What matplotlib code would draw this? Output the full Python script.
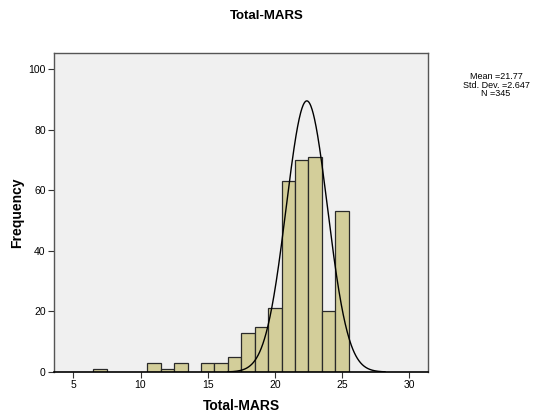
import numpy as np
import matplotlib.pyplot as plt

plt.rcParams['font.family'] = ['Liberation Sans', 'DejaVu Sans']

# bin centres and counts
scores = [7, 11, 12, 13, 15, 16, 17, 18, 19, 20, 21, 22, 23, 24, 25]
counts = [1, 3, 1, 3, 3, 3, 5, 13, 15, 21, 63, 70, 71, 20, 53]

# normal curve as drawn (peak position / height)
curve_mean = 22.38
curve_peak = 89.5
curve_sd = 345 / (curve_peak * np.sqrt(2 * np.pi))

stats_text = "Mean =21.77\nStd. Dev. =2.647\nN =345"

fig = plt.figure(figsize=(5.34, 4.16), dpi=100)
ax = fig.add_axes([54 / 534, 1 - 372 / 416, 374 / 534, 319 / 416])
ax.set_facecolor('#f0f0f0')

ax.bar(scores, counts, width=1.0, color='#d3ce9a', edgecolor='#2a2a2a', linewidth=0.9, zorder=2)

xs = np.linspace(16.5, 28.2, 400)
ys = curve_peak * np.exp(-0.5 * ((xs - curve_mean) / curve_sd) ** 2)
ax.plot(xs, ys, color='black', linewidth=1.0, zorder=3)

ax.set_xlim(3.56, 31.4)
ax.set_ylim(0, 105.3)
ax.set_xticks([5, 10, 15, 20, 25, 30])
ax.set_yticks([0, 20, 40, 60, 80, 100])
ax.tick_params(labelsize=7.5, length=4, width=0.8, colors='#333333', labelcolor='black', pad=2)
for s in ax.spines.values():
    s.set_color('#555555')
    s.set_linewidth(1.0)
ax.spines['bottom'].set_color('black')
ax.spines['bottom'].set_linewidth(1.2)

ax.set_xlabel('Total-MARS', fontsize=10, fontweight='bold', labelpad=6)
ax.set_ylabel('Frequency', fontsize=10, fontweight='bold', labelpad=3)
fig.text(0.5, 1 - 16 / 416, 'Total-MARS', ha='center', va='center', fontsize=9.5, fontweight='bold')
fig.text(496 / 534, 1 - 72 / 416, stats_text, ha='center', va='top', fontsize=6.5, linespacing=0.95)

fig.savefig('out.png', dpi=100)
